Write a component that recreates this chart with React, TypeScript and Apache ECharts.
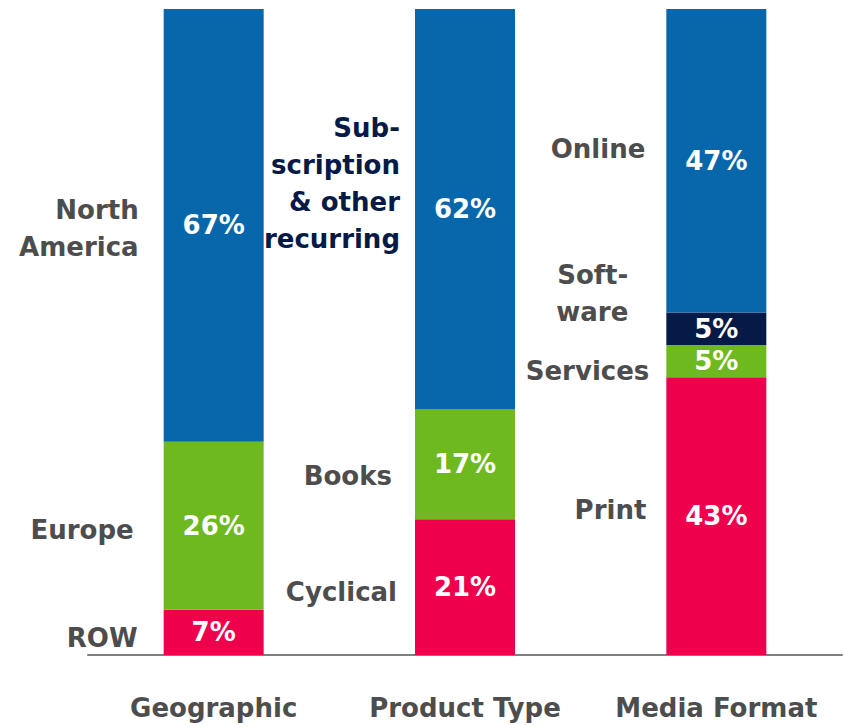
import React, { useEffect, useRef } from "react";
import * as echarts from "echarts";

const categories = ["Geographic", "Product Type", "Media Format"];

const geographicNames = ["ROW", "Europe", "North\nAmerica"];
const geographicValues = [7, 26, 67];

const productNames = ["Cyclical", "Books", "Sub-\nscription\n& other\nrecurring"];
const productValues = [21, 17, 62];

const mediaNames = ["Print", "Services", "Soft-\nware", "Online"];
const mediaValues = [43, 5, 5, 47];

const RED = "#EE004C";
const GREEN = "#6EB920";
const BLUE = "#0767AA";
const NAVY = "#061A47";
const GRAY = "#4D4D4D";

const geographicColors = [RED, GREEN, BLUE];
const productColors = [RED, GREEN, BLUE];
const mediaColors = [RED, GREEN, NAVY, BLUE];

// label layout (pixel gap from bar edge, vertical pixel offset from segment middle)
const geographicLayout = [[26, 6], [30, 4], [25, 3]];
const productLayout = [[18, 5], [23, 12], [15, -26]];
const mediaLayout = [[20, -6], [17, 10], [38, -35], [21, -12]];

const nameColors = [
  [GRAY, GRAY, GRAY],
  [GRAY, GRAY, NAVY],
  [GRAY, GRAY, GRAY, GRAY],
];

const FONT = "DejaVu Sans";
const BAR_WIDTH = 100;

export default function App() {
  const ref = useRef<HTMLDivElement>(null);

  useEffect(() => {
    if (!ref.current) return;
    const chart = echarts.init(ref.current, null, { renderer: "svg" });

    const groups = [
      { names: geographicNames, values: geographicValues, colors: geographicColors, layout: geographicLayout },
      { names: productNames, values: productValues, colors: productColors, layout: productLayout },
      { names: mediaNames, values: mediaValues, colors: mediaColors, layout: mediaLayout },
    ];

    const maxLevels = Math.max(...groups.map((g) => g.values.length));
    const barSeries: any[] = [];
    for (let lvl = 0; lvl < maxLevels; lvl++) {
      barSeries.push({
        type: "bar",
        stack: "total",
        barWidth: BAR_WIDTH,
        data: groups.map((g) =>
          lvl < g.values.length
            ? { value: g.values[lvl], itemStyle: { color: g.colors[lvl] } }
            : "-"
        ),
        label: {
          show: true,
          position: "inside",
          formatter: (p: any) => `${p.value}%`,
          color: "#ffffff",
          fontFamily: FONT,
          fontWeight: "bold",
          fontSize: 26,
        },
      });
    }

    const labelData: any[] = [];
    groups.forEach((g, gi) => {
      let cum = 0;
      g.values.forEach((v, li) => {
        labelData.push([gi, cum + v / 2, li]);
        cum += v;
      });
    });

    const labelSeries = {
      type: "custom",
      data: labelData,
      silent: true,
      renderItem: (params: any, api: any) => {
        const gi = api.value(0);
        const mid = api.value(1);
        const li = api.value(2);
        const g = groups[gi];
        const pt = api.coord([gi, mid]);
        const [gap, dy] = g.layout[li];
        return {
          type: "text",
          x: pt[0] - BAR_WIDTH / 2 - gap,
          y: pt[1] + dy,
          style: {
            text: g.names[li],
            align: "right",
            verticalAlign: "middle",
            fill: nameColors[gi][li],
            fontFamily: FONT,
            fontWeight: "bold",
            fontSize: 26,
            lineHeight: 37,
          },
        };
      },
    };

    chart.setOption({
      animation: false,
      grid: { left: 88, right: 2, top: 9, bottom: 72 },
      xAxis: {
        type: "category",
        data: categories,
        axisTick: { show: false },
        axisLine: { lineStyle: { color: "#7F7F7F", width: 2 } },
        axisLabel: {
          interval: 0,
          color: GRAY,
          fontFamily: FONT,
          fontWeight: "bold",
          fontSize: 26,
          margin: 40,
        },
      },
      yAxis: { type: "value", min: 0, max: 100, show: false },
      series: [...barSeries, labelSeries],
    });

    return () => chart.dispose();
  }, []);

  return (
    <div
      ref={ref}
      style={{ position: "fixed", left: 0, top: 0, width: 844, height: 727, background: "#fff" }}
    />
  );
}
